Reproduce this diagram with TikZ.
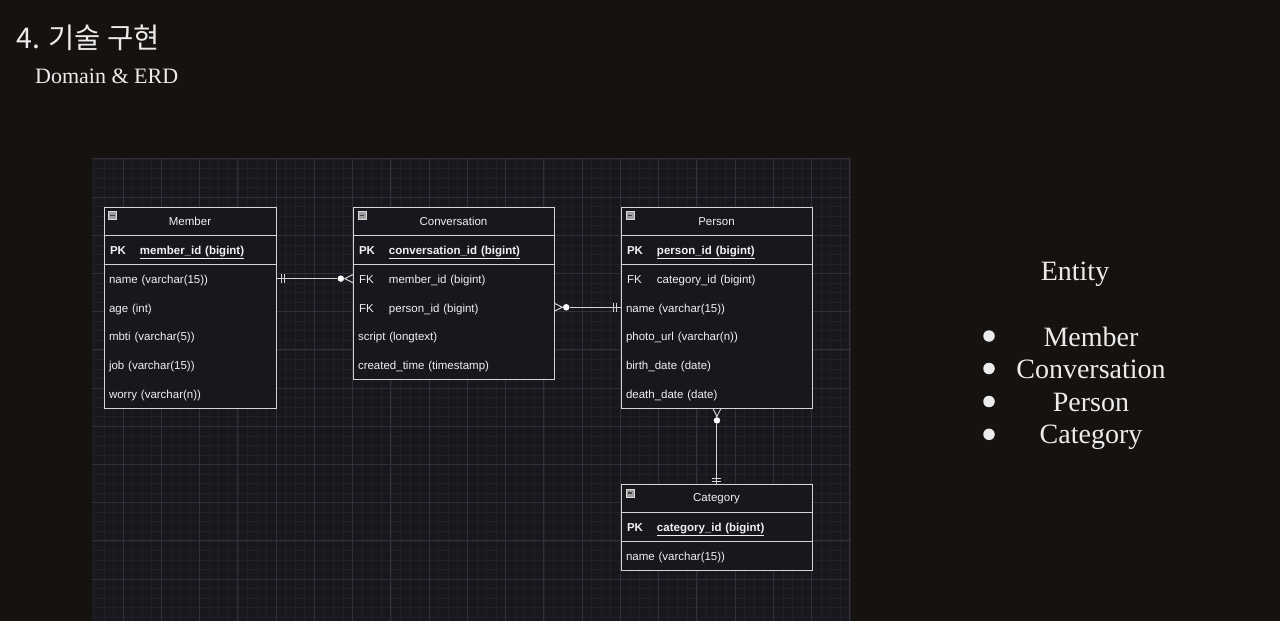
\documentclass[tikz,border=0pt]{standalone}
\usepackage{fontspec}
\setmainfont{Liberation Serif}
\newfontfamily\erfont{Liberation Sans}
\newfontfamily\cjk{Noto Sans CJK KR}
\usetikzlibrary{calc}
\definecolor{slidebg}{HTML}{151210}
\definecolor{panelbg}{HTML}{18171E}
\definecolor{gridminor}{HTML}{212027}
\definecolor{gridmajor}{HTML}{313038}
\definecolor{bordc}{HTML}{D4D4D4}
\definecolor{fgc}{HTML}{F0F0F0}
\definecolor{slidefg}{HTML}{ECECEC}
\definecolor{iconc}{HTML}{9E9E9E}
\newcommand\pkline[1]{\makebox[30pt][l]{\textbf{PK}}\underline{\textbf{#1}}}
\newcommand\fkline[1]{\hspace*{1pt}\makebox[30pt][l]{FK}#1}
\begin{document}
\begin{tikzpicture}[x=1pt,y=-1pt,
  erf/.style={font=\erfont\fontsize{11.5}{13.8}\selectfont, text=fgc},
  tbl/.style={draw=bordc, fill=panelbg, line width=0.9pt, inner sep=0pt, anchor=north west},
  hdr/.style={erf, draw=bordc, line width=0.9pt, inner sep=0pt, minimum height=28.65pt, align=center},
  rowbox/.style={erf, inner xsep=5pt, inner ysep=0pt, minimum height=28.65pt, align=left, text height=10.3pt, text depth=0.7pt},
  keyrow/.style={rowbox, draw=bordc, line width=0.9pt, inner xsep=6pt, text height=10.3pt, text depth=0.7pt},
  conn/.style={draw=bordc, line width=1pt},
  dot/.style={circle, fill=white, inner sep=0pt, minimum size=6.5pt},
  bul/.style={circle, fill=slidefg, inner sep=0pt, minimum size=11.5pt},
  slidetxt/.style={text=slidefg, inner sep=0pt, font=\fontsize{28}{32}\selectfont, anchor=base},
  icon/.style={draw=white!85!black, fill=iconc, minimum size=8pt, inner sep=0pt, line width=0.5pt,
    path picture={\draw[black!75, line width=1.1pt] ([xshift=1.6pt]path picture bounding box.west) -- ([xshift=-1.6pt]path picture bounding box.east);}}
]
\useasboundingbox (0,0) rectangle (1280,621);
\fill[slidebg] (0,0) rectangle (1280,621);

% title
\node[anchor=base west, text=slidefg, font=\cjk\fontsize{28.5}{32}\selectfont, inner sep=0pt] (title) at (16,48.5) {4. 기술 구현};
\node[anchor=base west, text=slidefg, font=\fontsize{22}{25}\selectfont, inner sep=0pt] (sub) at (35,83) {Domain \& ERD};

% panel with grid
\begin{scope}
\clip (92,158) rectangle (851,621);
\fill[panelbg] (92,158) rectangle (851,621);
\foreach \k in {-3,...,76} {\pgfmathsetmacro\xx{123+9.5625*\k}
  \draw[gridminor, line width=0.5pt] (\xx,158) -- (\xx,621);}
\foreach \k in {-4,...,44} {\pgfmathsetmacro\yy{197+9.55*\k}
  \draw[gridminor, line width=0.5pt] (92,\yy) -- (851,\yy);}
\foreach \k in {0,...,19} {\pgfmathsetmacro\xx{123+38.25*\k}
  \draw[gridmajor, line width=0.7pt] (\xx,158) -- (\xx,621);}
\foreach \k in {-1,...,10} {\pgfmathsetmacro\yy{197+38.2*\k}
  \draw[gridmajor, line width=0.7pt] (92,\yy) -- (851,\yy);}
\end{scope}

% Member
\node[tbl, minimum width=172pt, minimum height=200.55pt] (member) at (104,207) {};
\node[hdr, minimum width=172pt] (m-hdr) at (190,221.33) {Member};
\node[icon] (m-icon) at (112.7,215.5) {};
\node[keyrow, text width=160pt] (m-pk) at (190,249.98) {\pkline{member\_id (bigint)}};
\node[rowbox, text width=162pt] (m-name) at (190,278.63) {name (varchar(15))};
\node[rowbox, text width=162pt] (m-age) at (190,307.28) {age (int)};
\node[rowbox, text width=162pt] (m-mbti) at (190,335.93) {mbti (varchar(5))};
\node[rowbox, text width=162pt] (m-job) at (190,364.58) {job (varchar(15))};
\node[rowbox, text width=162pt] (m-worry) at (190,393.23) {worry (varchar(n))};

% Conversation
\node[tbl, minimum width=201pt, minimum height=171.9pt] (conv) at (353,207) {};
\node[hdr, minimum width=201pt] (c-hdr) at (453.5,221.33) {Conversation};
\node[icon] (c-icon) at (362,215.5) {};
\node[keyrow, text width=189pt] (c-pk) at (453.5,249.98) {\pkline{conversation\_id (bigint)}};
\node[rowbox, text width=191pt] (c-mem) at (453.5,278.63) {\fkline{member\_id (bigint)}};
\node[rowbox, text width=191pt] (c-per) at (453.5,307.28) {\fkline{person\_id (bigint)}};
\node[rowbox, text width=191pt] (c-script) at (453.5,335.93) {script (longtext)};
\node[rowbox, text width=191pt] (c-time) at (453.5,364.58) {created\_time (timestamp)};

% Person
\node[tbl, minimum width=191pt, minimum height=200.55pt] (person) at (621,207) {};
\node[hdr, minimum width=191pt] (p-hdr) at (716.5,221.33) {Person};
\node[icon] (p-icon) at (630,215.5) {};
\node[keyrow, text width=179pt] (p-pk) at (716.5,249.98) {\pkline{person\_id (bigint)}};
\node[rowbox, text width=181pt] (p-cat) at (716.5,278.63) {\fkline{category\_id (bigint)}};
\node[rowbox, text width=181pt] (p-name) at (716.5,307.28) {name (varchar(15))};
\node[rowbox, text width=181pt] (p-photo) at (716.5,335.93) {photo\_url (varchar(n))};
\node[rowbox, text width=181pt] (p-birth) at (716.5,364.58) {birth\_date (date)};
\node[rowbox, text width=181pt] (p-death) at (716.5,393.23) {death\_date (date)};

% Category
\node[tbl, minimum width=191pt, minimum height=85.95pt] (category) at (621,484) {};
\node[hdr, minimum width=191pt] (k-hdr) at (716.5,498.33) {Category};
\node[icon] (k-icon) at (630,493) {};
\node[keyrow, text width=179pt] (k-pk) at (716.5,526.98) {\pkline{category\_id (bigint)}};
\node[rowbox, text width=181pt] (k-name) at (716.5,555.63) {name (varchar(15))};

% Member -- Conversation
\node[dot] (d1) at ($(c-mem.west)+(-12,0)$) {};
\coordinate (a1) at ($(c-mem.west)+(-8,0)$);
\draw[conn] (m-name.east) -- (d1) -- (a1);
\draw[conn] ($(c-mem.west)+(0,-4)$) -- (a1) -- ($(c-mem.west)+(0,4)$);
\draw[conn] ($(m-name.east)+(5,-4.5)$) -- ++(0,9);
\draw[conn] ($(m-name.east)+(8,-4.5)$) -- ++(0,9);

% Conversation -- Person
\node[dot] (d2) at ($(c-per.east)+(12,0)$) {};
\coordinate (a2) at ($(c-per.east)+(8,0)$);
\draw[conn] (p-name.west) -- (d2) -- (a2);
\draw[conn] ($(c-per.east)+(0,-4)$) -- (a2) -- ($(c-per.east)+(0,4)$);
\draw[conn] ($(p-name.west)+(-7,-4.5)$) -- ++(0,9);
\draw[conn] ($(p-name.west)+(-4,-4.5)$) -- ++(0,9);

% Person -- Category
\node[dot] (d3) at ($(person.south)+(0,12)$) {};
\coordinate (a3) at ($(person.south)+(0,8)$);
\draw[conn] (category.north) -- (d3) -- (a3);
\draw[conn] ($(person.south)+(-4,0)$) -- (a3) -- ($(person.south)+(4,0)$);
\draw[conn] ($(category.north)+(-4.5,-6)$) -- ++(9,0);
\draw[conn] ($(category.north)+(-4.5,-3)$) -- ++(9,0);

% Entity list
\node[slidetxt] (ent) at (1075,280) {Entity};
\node[slidetxt] (i1) at (1091,346.7) {Member};
\node[slidetxt] (i2) at (1091,378) {Conversation};
\node[slidetxt] (i3) at (1091,411.5) {Person};
\node[slidetxt] (i4) at (1091,443.3) {Category};
\node[bul] (b1) at (989,336) {};
\node[bul] (b2) at (989,368.5) {};
\node[bul] (b3) at (989,401.5) {};
\node[bul] (b4) at (989,434.3) {};
\end{tikzpicture}
\end{document}
